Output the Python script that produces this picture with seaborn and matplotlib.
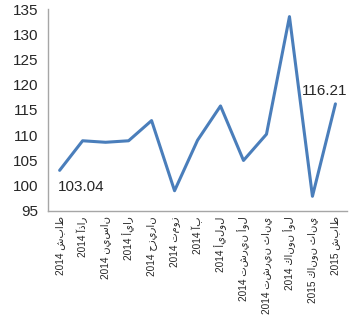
import matplotlib
matplotlib.use("Agg")
import matplotlib.pyplot as plt
import seaborn as sns
import pandas as pd
import numpy as np

months = ["2014 شباط", "2014 آذار", "2014 نيسان", "2014 أيار", "2014 حزيران",
          "2014 تموز", "2014 آب", "2014 أيلول", "2014 تشرين أول", "2014 تشرين ثاني",
          "2014 كانون أول", "2015 كانون ثاني", "2015 شباط"]
values = [103.04, 108.9, 108.6, 108.9, 112.9, 99.0, 109.0, 115.8, 105.0, 110.2,
          133.5, 97.9, 116.21]
y_ticks = [95, 100, 105, 110, 115, 120, 125, 130, 135]

sns.set_style("white")
plt.rcParams["font.family"] = ["Liberation Sans", "DejaVu Sans"]

df = pd.DataFrame({"month": months, "value": values, "pos": np.arange(len(months))})

fig = plt.figure(figsize=(3.54, 3.23), dpi=100)
ax = fig.add_axes([0.136, 0.347, 0.844, 0.625])

sns.lineplot(data=df, x="pos", y="value", ax=ax, color="#4A7EBB", linewidth=2.2)

ax.set_xlim(-0.5, len(months) - 0.5)
ax.set_ylim(y_ticks[0], y_ticks[-1])
ax.set_yticks(y_ticks)
ax.set_yticklabels([str(t) for t in y_ticks], fontsize=11)

ax.set_xticks(df["pos"])
ax.set_xticklabels(months, rotation=90, fontsize=7.2)
ax.set_xticks(np.arange(len(months) + 1) - 0.5, minor=True)
ax.tick_params(axis="x", which="major", length=0, pad=4)
ax.tick_params(axis="x", which="minor", length=4, width=0.8, color="#A6A6A6", direction="out")
ax.tick_params(axis="y", length=4, width=0.8, color="#A6A6A6", direction="out", pad=3)

for s in ["top", "right"]:
    ax.spines[s].set_visible(False)
for s in ["left", "bottom"]:
    ax.spines[s].set_color("#A6A6A6")
    ax.spines[s].set_linewidth(1.0)

ax.set_xlabel("")
ax.set_ylabel("")

ax.annotate(f"{values[0]:.2f}", (0, values[0]), xytext=(-1, -7), textcoords="offset points",
            ha="left", va="top", fontsize=11)
ax.annotate(f"{values[-1]:.2f}", (len(values) - 1, values[-1]), xytext=(-8, 4),
            textcoords="offset points", ha="center", va="bottom", fontsize=11)

fig.savefig("out.png", dpi=100)
